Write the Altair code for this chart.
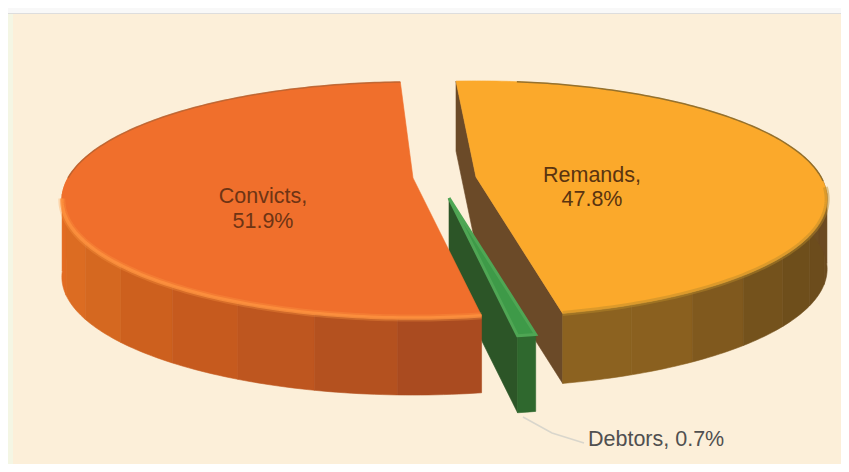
import math
import altair as alt

# ---- values
categories = ["Convicts", "Debtors", "Remands"]
shares = [51.9, 0.7, 47.8]
top_colors = ["#F06F2C", "#3E9A48", "#FBA92B"]
face_colors = ["#A84A20", "#2C5527", "#6B4A28"]
convicts_wall = ["#EC6E25", "#E86C22", "#E26B22", "#DC6C22", "#D56820", "#CD601E", "#C65A1E", "#BE561F", "#B4511F", "#AA4B20"]
debtors_wall = ["#2F682E"]
remands_wall = ["#8C6220", "#8A601F", "#80591E", "#74521C", "#6E4E1B", "#6C4C1C", "#6C4B1E", "#6C4A22", "#6D4C22"]

# ---- drawing layout (pixels on the page)
MARGIN = 8
W, H = 833, 456
RX, RY, K = 345, 114, 0.186
START = -2.5
apex = {"Convicts": (413, 178, 77), "Debtors": (449, 198, 77), "Remands": (476, 177, 70)}


def pt(cx, cy, a, drop=0):
    s = -math.cos(math.radians(a))
    c = math.sin(math.radians(a))
    d = 1 - K * s
    return [cx + RX * c / d - MARGIN, cy + RY * s / d + drop - MARGIN]


def arc(cx, cy, a0, a1, drop=0, step=1.0):
    n = max(1, int(abs(a1 - a0) / step))
    return [pt(cx, cy, a0 + (a1 - a0) * i / n, drop) for i in range(n + 1)]


def feature(coords, fill, stroke=None, sw=0.6, op=1.0, line=False):
    geom = (
        {"type": "LineString", "coordinates": coords}
        if line
        else {"type": "Polygon", "coordinates": [coords + [coords[0]]]}
    )
    return {
        "type": "Feature",
        "geometry": geom,
        "properties": {"fill": fill, "stroke": stroke or fill, "sw": sw, "op": op},
    }


def rect(x0, y0, x1, y1, color):
    pts = [[x0 - MARGIN, y0 - MARGIN], [x1 - MARGIN, y0 - MARGIN], [x1 - MARGIN, y1 - MARGIN], [x0 - MARGIN, y1 - MARGIN]]
    return feature(pts, color, sw=0)


span = {c: v / 100 * 360 for c, v in zip(categories, shares)}
a_c1 = START
a_c0 = a_c1 - span["Convicts"]          # Convicts: going left from the top
a_d1 = a_c0
a_d0 = a_d1 - span["Debtors"]
a_r1 = a_d0 + 360                        # Remands: right side, from the bottom back to the top
a_r0 = a_r1 - span["Remands"]

feats = [
    rect(8, 8, 841, 13, "#F8F8F8"),
    rect(8, 13, 841, 14, "#DDDDDD"),
    rect(8, 14, 13, 464, "#F4F6E4"),
    rect(13, 14, 841, 464, "#FCEFD9"),
]

# leader line of the small slice
leader = [[523 - MARGIN, 417 - MARGIN], [552 - MARGIN, 433 - MARGIN], [584 - MARGIN, 443 - MARGIN]]
feats.append(feature(leader, "transparent", "#D9D6CC", 1.5, 1, True))

# Remands
cx, cy, d = apex["Remands"]
feats.append(feature([pt(cx, cy, a_r0), [cx - MARGIN, cy - MARGIN], pt(cx, cy, a_r1),
                      pt(cx, cy, a_r1, d), [cx - MARGIN, cy + d - MARGIN], pt(cx, cy, a_r0, d)],
                     face_colors[2]))
n = len(remands_wall)
for i, col in enumerate(remands_wall):
    a0 = a_r1 + (78 - a_r1) * i / n
    a1 = a_r1 + (78 - a_r1) * (i + 1) / n
    feats.append(feature(arc(cx, cy, a0, a1) + arc(cx, cy, a1, a0, d), col))
feats.append(feature([[cx - MARGIN, cy - MARGIN]] + arc(cx, cy, a_r0, a_r1), top_colors[2]))
feats.append(feature(arc(cx, cy, 95, a_r1), "transparent", "#B98A2A", 5, 0.45, True))
feats.append(feature(arc(cx, cy, a_r0 + 12, 92), "transparent", "#8A6A2A", 1.5, 0.9, True))

# Debtors
cx, cy, d = apex["Debtors"]
feats.append(feature([[cx - MARGIN, cy - MARGIN], pt(cx, cy, a_d1 + 360),
                      pt(cx, cy, a_d1 + 360, d), [cx - MARGIN, cy + d - MARGIN]], face_colors[1]))
feats.append(feature(arc(cx, cy, a_d0 + 360, a_d1 + 360) + arc(cx, cy, a_d1 + 360, a_d0 + 360, d), debtors_wall[0]))
feats.append(feature([[cx - MARGIN, cy - MARGIN]] + arc(cx, cy, a_d0 + 360, a_d1 + 360, step=0.5), top_colors[1], "#4FA654", 3))

# Convicts
cx, cy, d = apex["Convicts"]
n = len(convicts_wall)
for i, col in enumerate(convicts_wall):
    a0 = -75 + (a_c0 + 75) * i / n
    a1 = -75 + (a_c0 + 75) * (i + 1) / n
    feats.append(feature(arc(cx, cy, a0, a1) + arc(cx, cy, a1, a0, d), col))
feats.append(feature([[cx - MARGIN, cy - MARGIN]] + arc(cx, cy, a_c1, a_c0), top_colors[0]))
feats.append(feature(arc(cx, cy, a_c0, -100), "transparent", "#FF9A45", 7, 0.3, True))
feats.append(feature(arc(cx, cy, a_c0, -100), "transparent", "#FF9440", 3.5, 0.75, True))
feats.append(feature(arc(cx, cy, -90, a_c1), "transparent", "#B4602F", 1.5, 0.8, True))

labels = [
    {"lon": 263 - MARGIN, "lat": 197 - MARGIN, "t": f"{categories[0]},", "c": "#6E3414"},
    {"lon": 263 - MARGIN, "lat": 222 - MARGIN, "t": f"{shares[0]}%", "c": "#6E3414"},
    {"lon": 592 - MARGIN, "lat": 176 - MARGIN, "t": f"{categories[2]},", "c": "#5A3410"},
    {"lon": 592 - MARGIN, "lat": 200 - MARGIN, "t": f"{shares[2]}%", "c": "#5A3410"},
]
tail = [{"lon": 588 - MARGIN, "lat": 440 - MARGIN, "t": f"{categories[1]}, {shares[1]}%", "c": "#505050"}]

shapes = alt.Chart(alt.Data(values=feats)).mark_geoshape().encode(
    fill=alt.Fill("properties.fill:N", scale=None),
    stroke=alt.Stroke("properties.stroke:N", scale=None),
    strokeWidth=alt.StrokeWidth("properties.sw:Q", scale=None),
    opacity=alt.Opacity("properties.op:Q", scale=None),
)

center_text = alt.Chart(alt.Data(values=labels)).mark_text(
    font="Liberation Sans", fontSize=21.5, align="center", baseline="middle"
).encode(longitude="lon:Q", latitude="lat:Q", text="t:N", color=alt.Color("c:N", scale=None))

side_text = alt.Chart(alt.Data(values=tail)).mark_text(
    font="Liberation Sans", fontSize=21.5, align="left", baseline="middle"
).encode(longitude="lon:Q", latitude="lat:Q", text="t:N", color=alt.Color("c:N", scale=None))

chart = (
    alt.layer(shapes, center_text, side_text)
    .project(type="identity", scale=1, translate=[0, 0])
    .properties(width=W, height=H, padding=0, background="white")
    .configure_view(stroke=None)
)

chart.save("out.html", embed_options={"renderer": "svg", "actions": False})
